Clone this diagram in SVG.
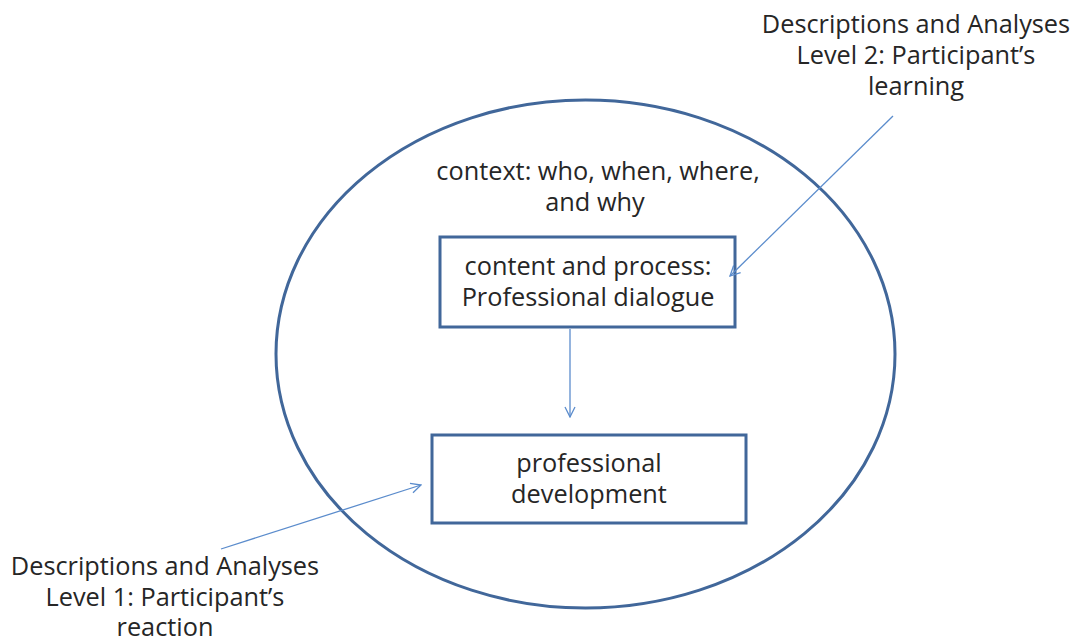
<svg xmlns="http://www.w3.org/2000/svg" width="1073" height="640" viewBox="0 0 1073 640">
<defs>
<style>
.t{font-family:"Open Sans",Lato,"Liberation Sans",sans-serif;font-size:25.3px;fill:#262626;text-anchor:middle}
.box{fill:#fff;stroke:#41679a;stroke-width:3}
.c{stroke:#5b8ccc;stroke-width:1.3;fill:none;marker-end:url(#ah)}
</style>
<marker id="ah" viewBox="0 0 12 12" refX="11" refY="6" markerWidth="12" markerHeight="12" markerUnits="userSpaceOnUse" orient="auto">
<path d="M1,1 L11,6 L1,11" fill="none" stroke="#5b8ccc" stroke-width="1.3"/>
</marker>
</defs>
<rect width="1073" height="640" fill="#fff"/>
<g id="context">
<ellipse cx="585.5" cy="354" rx="309.5" ry="254" fill="none" stroke="#41679a" stroke-width="3"/>
<text class="t" x="598" y="180">context: who, when, where,</text>
<text class="t" x="595" y="211">and why</text>
</g>
<g id="content">
<rect class="box" x="440" y="237" width="295" height="90"/>
<text class="t" x="588" y="275">content and process:</text>
<text class="t" x="588" y="306">Professional dialogue</text>
</g>
<g id="development">
<rect class="box" x="432" y="435" width="314" height="88"/>
<text class="t" x="589" y="472">professional</text>
<text class="t" x="589" y="503">development</text>
</g>
<g id="level2">
<text class="t" x="916" y="33">Descriptions and Analyses</text>
<text class="t" x="916" y="64">Level 2: Participant’s</text>
<text class="t" x="916" y="95">learning</text>
</g>
<g id="level1">
<text class="t" x="165" y="575">Descriptions and Analyses</text>
<text class="t" x="165" y="606">Level 1: Participant’s</text>
<text class="t" x="165" y="636">reaction</text>
</g>
<g id="connectors">
<line class="c" x1="570" y1="329" x2="570" y2="417"/>
<line class="c" x1="893" y1="116" x2="730" y2="276"/>
<line class="c" x1="221" y1="549" x2="421" y2="485"/>
</g>
</svg>
